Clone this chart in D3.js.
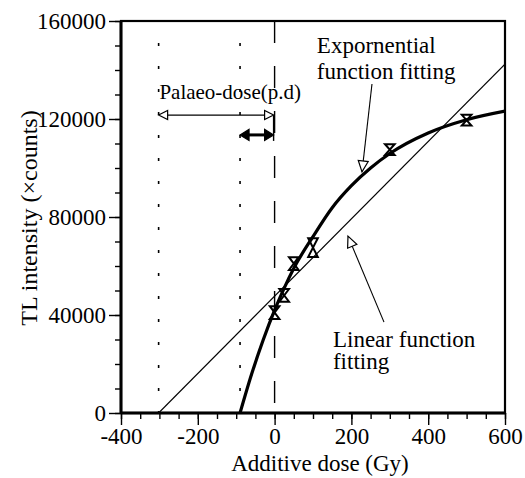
<!DOCTYPE html>
<html>
<head>
<meta charset="utf-8">
<script src="https://cdn.jsdelivr.net/npm/d3@7"></script>
<style>
  html, body { margin: 0; padding: 0; background: #fff; }
  svg text { font-family: "Liberation Serif", "Times New Roman", serif; fill: #000; }
</style>
</head>
<body>
<svg id="chart" width="525" height="478"></svg>
<script>
// Additive-dose TL measurements (Gy, counts) with error half-widths
const doses = [0, 25, 50, 100, 300, 500];
const tlCounts = [41000, 48000, 61000, 67500, 107500, 119500];
const tlErrors = [2600, 2600, 2600, 3800, 2200, 2200];

// Saturating exponential fit, sampled along the curve
const expDose = [-90, -60, -30, 0, 25, 50, 100, 150, 200, 250, 300, 400, 500, 600];
const expTL = [0, 15800, 29700, 42000, 51000, 59100, 72000, 83800, 92800, 100000, 105900, 114300, 119700, 123200];

// Linear fit end points
const linDose = [-302, 600];
const linTL = [0, 142400];

// Reference lines (Gy)
const dottedDoses = [-302, -90];
const dashedDose = 0;

// Axis ticks
const xMajorTicks = [-400, -200, 0, 200, 400, 600];
const xMinorTicks = d3.range(-400, 601, 50);
const yMajorTicks = [0, 40000, 80000, 120000, 160000];
const yMinorTicks = d3.range(0, 160001, 10000);

const svg = d3.select("#chart");
const mLeft = 121, mRight = 505, mTop = 21, mBottom = 413;

const x = d3.scaleLinear().domain([-400, 600]).range([mLeft, mRight]);
const y = d3.scaleLinear().domain([0, 160000]).range([mBottom, mTop]);

const FONT = 23;

// Reference verticals
const g = svg.append("g");
dottedDoses.forEach(d => {
  g.append("line")
    .attr("x1", x(d)).attr("x2", x(d))
    .attr("y1", y(160000) + 22).attr("y2", y(0))
    .attr("stroke", "#000").attr("stroke-width", 1.6)
    .attr("stroke-dasharray", "3,20");
});
g.append("line")
  .attr("x1", x(dashedDose)).attr("x2", x(dashedDose))
  .attr("y1", y(160000)).attr("y2", y(0))
  .attr("stroke", "#000").attr("stroke-width", 1.4)
  .attr("stroke-dasharray", "22,23");

// Clip fits to the frame
svg.append("clipPath").attr("id", "plotClip")
  .append("rect").attr("x", mLeft).attr("y", mTop)
  .attr("width", mRight - mLeft).attr("height", mBottom - mTop);

const plot = svg.append("g").attr("clip-path", "url(#plotClip)");

// Linear fit
plot.append("path")
  .datum(linDose.map((d, i) => [d, linTL[i]]))
  .attr("d", d3.line().x(d => x(d[0])).y(d => y(d[1])))
  .attr("fill", "none").attr("stroke", "#000").attr("stroke-width", 1.2);

// Exponential fit
plot.append("path")
  .datum(expDose.map((d, i) => [d, expTL[i]]))
  .attr("d", d3.line().x(d => x(d[0])).y(d => y(d[1])).curve(d3.curveMonotoneX))
  .attr("fill", "none").attr("stroke", "#000").attr("stroke-width", 3.2);

// Data points: cross with capped error bar (hourglass)
const hw = 4.8;
svg.append("g").selectAll("path.pt")
  .data(doses.map((d, i) => ({ d, v: tlCounts[i], e: tlErrors[i] })))
  .join("path")
  .attr("class", "pt")
  .attr("d", p => {
    const cx = x(p.d), y1 = y(p.v + p.e), y2 = y(p.v - p.e);
    return `M${cx - hw},${y1}H${cx + hw}L${cx - hw},${y2}H${cx + hw}Z`;
  })
  .attr("fill", "none").attr("stroke", "#000").attr("stroke-width", 2)
  .attr("stroke-linejoin", "miter");

// Arrow helper: head drawn at tip (x1,y1), pointing away from (x0,y0)
function arrowHead(sel, x0, y0, x1, y1, len, half, filled) {
  const a = Math.atan2(y1 - y0, x1 - x0);
  const bx = x1 - len * Math.cos(a), by = y1 - len * Math.sin(a);
  const px = -Math.sin(a) * half, py = Math.cos(a) * half;
  sel.append("path")
    .attr("d", `M${x1},${y1}L${bx + px},${by + py}L${bx - px},${by - py}Z`)
    .attr("fill", filled ? "#000" : "#fff")
    .attr("stroke", "#000").attr("stroke-width", 1.2)
    .attr("stroke-linejoin", "miter");
}

const ann = svg.append("g");

// Palaeo-dose span (thin, open heads)
const pdY = 121600;
ann.append("line")
  .attr("x1", x(-302) + 8).attr("x2", x(0) - 8)
  .attr("y1", y(pdY)).attr("y2", y(pdY))
  .attr("stroke", "#000").attr("stroke-width", 1.1);
arrowHead(ann, x(-150), y(pdY), x(-302), y(pdY), 9, 4.5, false);
arrowHead(ann, x(-150), y(pdY), x(0) - 1, y(pdY), 9, 4.5, false);

// Exponential-fit palaeo-dose span (thick, filled heads)
const pdY2 = 113500;
ann.append("line")
  .attr("x1", x(-90) + 7).attr("x2", x(0) - 7)
  .attr("y1", y(pdY2)).attr("y2", y(pdY2))
  .attr("stroke", "#000").attr("stroke-width", 3);
arrowHead(ann, x(-45), y(pdY2), x(-90), y(pdY2), 9, 5.5, true);
arrowHead(ann, x(-45), y(pdY2), x(0) - 1, y(pdY2), 9, 5.5, true);
ann.append("line")
  .attr("x1", x(0) - 1).attr("x2", x(0) - 1)
  .attr("y1", y(pdY)).attr("y2", y(pdY2) + 6)
  .attr("stroke", "#000").attr("stroke-width", 1.4);

// Callout arrows
const expCallout = [[253.6, 134300], [227.6, 98400]];
const linCallout = [[284.9, 37100], [191.1, 72200]];
[expCallout, linCallout].forEach(c => {
  const x0 = x(c[0][0]), y0 = y(c[0][1]), x1 = x(c[1][0]), y1 = y(c[1][1]);
  ann.append("line").attr("x1", x0).attr("y1", y0).attr("x2", x1).attr("y2", y1)
    .attr("stroke", "#000").attr("stroke-width", 1.1);
  arrowHead(ann, x0, y0, x1, y1, 11, 5, false);
});

// Annotation text
const labels = [
  { t: "Palaeo-dose(p.d)", d: -300, v: 128000, s: 21 },
  { t: "Expornential", d: 110, v: 147000, s: FONT },
  { t: "function fitting", d: 110, v: 136300, s: FONT },
  { t: "Linear function", d: 152, v: 27000, s: FONT },
  { t: "fitting", d: 152, v: 17800, s: FONT }
];
ann.selectAll("text.lab").data(labels).join("text")
  .attr("class", "lab")
  .attr("x", l => x(l.d)).attr("y", l => y(l.v))
  .attr("font-size", l => l.s)
  .text(l => l.t);

// Axes
const xAxisMinor = d3.axisBottom(x).tickValues(xMinorTicks).tickSize(6).tickFormat("");
const xAxisMajor = d3.axisBottom(x).tickValues(xMajorTicks).tickSize(12).tickPadding(3)
  .tickFormat(d => d3.format("d")(d).replace("\u2212", "-"));
const yAxisMinor = d3.axisLeft(y).tickValues(yMinorTicks).tickSize(6).tickFormat("");
const yAxisMajor = d3.axisLeft(y).tickValues(yMajorTicks).tickSize(12).tickPadding(3)
  .tickFormat(d3.format("d"));

function styleAxis(sel) {
  sel.select(".domain").remove();
  sel.selectAll("line").attr("stroke", "#000").attr("stroke-width", 1.4);
  sel.selectAll("text").attr("font-size", FONT).attr("fill", "#000")
    .attr("font-family", '"Liberation Serif", "Times New Roman", serif');
}

svg.append("g").attr("transform", `translate(0,${mBottom})`).call(xAxisMinor).call(styleAxis);
svg.append("g").attr("transform", `translate(0,${mBottom})`).call(xAxisMajor).call(styleAxis);
svg.append("g").attr("transform", `translate(${mLeft},0)`).call(yAxisMinor).call(styleAxis);
svg.append("g").attr("transform", `translate(${mLeft},0)`).call(yAxisMajor).call(styleAxis);

// Frame
svg.append("rect")
  .attr("x", mLeft).attr("y", mTop)
  .attr("width", mRight - mLeft).attr("height", mBottom - mTop)
  .attr("fill", "none").attr("stroke", "#000").attr("stroke-width", 2.2);
svg.append("line").attr("x1", mLeft).attr("x2", mLeft).attr("y1", mTop).attr("y2", mBottom)
  .attr("stroke", "#000").attr("stroke-width", 3);
svg.append("line").attr("x1", mLeft).attr("x2", mRight).attr("y1", mBottom).attr("y2", mBottom)
  .attr("stroke", "#000").attr("stroke-width", 2.8);

// Axis titles
svg.append("text")
  .attr("x", 320).attr("y", 471)
  .attr("text-anchor", "middle").attr("font-size", FONT)
  .text("Additive dose (Gy)");
svg.append("text")
  .attr("transform", `translate(37,${(mTop + mBottom) / 2 + 1}) rotate(-90)`)
  .attr("text-anchor", "middle").attr("font-size", 24)
  .text("TL intensity (×counts)");
</script>
</body>
</html>
